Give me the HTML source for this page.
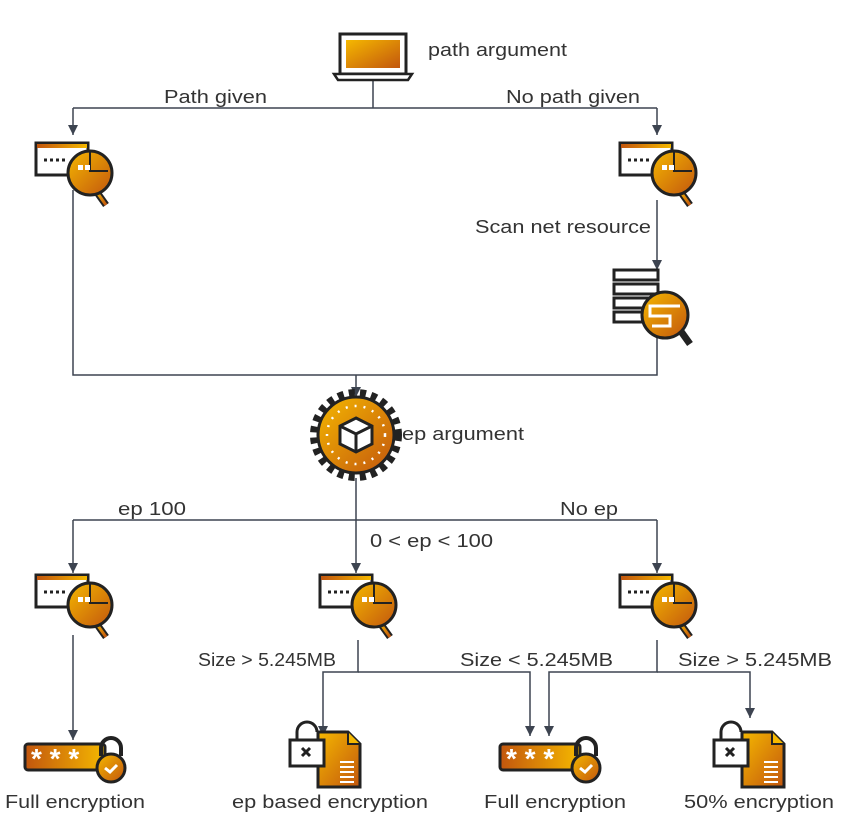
<!DOCTYPE html>
<html><head><meta charset="utf-8"><style>
body{margin:0;background:#fff;}
svg{display:block;font-family:"Liberation Sans",sans-serif;font-size:18px;fill:#333;}
</style></head><body>
<svg width="851" height="828" viewBox="0 0 851 828" xmlns="http://www.w3.org/2000/svg">
<defs>
<linearGradient id="g" x1="0" y1="0" x2="1" y2="1"><stop offset="0" stop-color="#f5b800"/><stop offset="1" stop-color="#c2560e"/></linearGradient>
<linearGradient id="g2" x1="0" y1="0" x2="1" y2="0"><stop offset="0" stop-color="#c2560e"/><stop offset="1" stop-color="#f5b800"/></linearGradient>
<marker id="a" markerWidth="12" markerHeight="12" refX="10" refY="5" orient="auto" markerUnits="userSpaceOnUse"><path d="M0,0 L10,5 L0,10 z" fill="#3d4450"/></marker>
<g id="scan">
<rect x="0" y="0" width="52" height="32" fill="#fff" stroke="#222" stroke-width="3"/>
<rect x="1" y="1" width="50" height="4" fill="url(#g2)"/>
<path d="M8 17h22" stroke="#222" stroke-width="3" stroke-dasharray="3 3"/>
<line x1="60" y1="48" x2="70" y2="62" stroke="#222" stroke-width="7"/>
<line x1="60" y1="48" x2="70" y2="62" stroke="url(#g)" stroke-width="3"/>
<circle cx="54" cy="30" r="22" fill="url(#g)" stroke="#222" stroke-width="3"/>
<path d="M54 8v20l18 0" fill="none" stroke="#222" stroke-width="2"/>
<rect x="42" y="22" width="5" height="5" fill="#fff"/><rect x="49" y="22" width="5" height="5" fill="#fff"/>
</g>
<g id="pw">
<rect x="0" y="0" width="80" height="26" rx="3" fill="url(#g2)" stroke="#222" stroke-width="3"/>
<text x="6" y="24" style="font-size:28px;fill:#fff;font-weight:bold">* * *</text>
<path d="M76 12v-8a10 10 0 0 1 20 0v8" fill="none" stroke="#222" stroke-width="4"/>
<circle cx="86" cy="24" r="14" fill="url(#g)" stroke="#222" stroke-width="3"/>
<path d="M80 24l5 4l7 -7" fill="none" stroke="#fff" stroke-width="3"/>
</g>
<g id="doc">
<path d="M28 10h30l12 12v43h-42z" fill="url(#g)" stroke="#222" stroke-width="3"/>
<path d="M58 10v12h12" fill="#f5b800" stroke="#222" stroke-width="2"/>
<path d="M50 40h14M50 45h14M50 50h14M50 55h14M50 60h14" stroke="#fff" stroke-width="2"/>
<path d="M7 18v-8a10 10 0 0 1 20 0" fill="none" stroke="#222" stroke-width="3"/>
<rect x="0" y="18" width="34" height="26" fill="#fff" stroke="#222" stroke-width="3"/>
<path d="M12 26l8 8M20 26l-8 8" stroke="#222" stroke-width="3"/>
</g>
</defs>
<g stroke="#3d4450" stroke-width="1.5" fill="none">
<path d="M373 80V108M73 108H657"/>
<path d="M73 108V135" marker-end="url(#a)"/>
<path d="M657 108V135" marker-end="url(#a)"/>
<path d="M73 190V375H657V338"/>
<path d="M657 200V270" marker-end="url(#a)"/>
<path d="M356 375V397" marker-end="url(#a)"/>
<path d="M356 478V520M73 520H657"/>
<path d="M73 520V573" marker-end="url(#a)"/>
<path d="M356 520V573" marker-end="url(#a)"/>
<path d="M657 520V573" marker-end="url(#a)"/>
<path d="M73 635V740" marker-end="url(#a)"/>
<path d="M358 640V672H323V736" marker-end="url(#a)"/>
<path d="M358 672H530V736" marker-end="url(#a)"/>
<path d="M657 640V672H549V736" marker-end="url(#a)"/>
<path d="M657 672H750V718" marker-end="url(#a)"/>
</g>
<!-- laptop -->
<rect x="340" y="34" width="66" height="40" fill="#fff" stroke="#222" stroke-width="3"/>
<rect x="346" y="40" width="54" height="28" fill="url(#g)"/>
<path d="M334 74h78l-4 6h-70z" fill="#fff" stroke="#222" stroke-width="2.5"/>
<use href="#scan" x="36" y="143"/>
<use href="#scan" x="620" y="143"/>
<!-- server -->
<g stroke="#222" stroke-width="3" fill="#fff">
<rect x="614" y="270" width="44" height="10"/><rect x="614" y="284" width="44" height="10"/><rect x="614" y="298" width="44" height="10"/><rect x="614" y="312" width="44" height="10"/>
</g>
<line x1="680" y1="330" x2="690" y2="344" stroke="#222" stroke-width="7"/>
<circle cx="665" cy="315" r="23" fill="url(#g)" stroke="#222" stroke-width="3"/>
<path d="M680 306h-30v10h20v10h-18" fill="none" stroke="#fff" stroke-width="3"/>
<!-- gear -->
<circle cx="356" cy="435" r="42" fill="none" stroke="#222" stroke-width="8" stroke-dasharray="6 5.2"/>
<circle cx="356" cy="435" r="38" fill="url(#g)" stroke="#222" stroke-width="3"/>
<circle cx="356" cy="435" r="29" fill="none" stroke="#fff" stroke-width="2.5" stroke-dasharray="2 7"/>
<path d="M356 418l16 8v18l-16 8l-16-8v-18z" fill="#fff" stroke="#222" stroke-width="3"/>
<path d="M340 426l16 8l16-8M356 434v18" fill="none" stroke="#222" stroke-width="3"/>
<use href="#scan" x="36" y="575"/>
<use href="#scan" x="320" y="575"/>
<use href="#scan" x="620" y="575"/>
<use href="#pw" x="25" y="744"/>
<use href="#pw" x="500" y="744"/>
<use href="#doc" x="290" y="722"/>
<use href="#doc" x="714" y="722"/>
<g lengthAdjust="spacingAndGlyphs">
<text x="428" y="56" textLength="139" lengthAdjust="spacingAndGlyphs">path argument</text>
<text x="164" y="103" textLength="103" lengthAdjust="spacingAndGlyphs">Path given</text>
<text x="506" y="103" textLength="134" lengthAdjust="spacingAndGlyphs">No path given</text>
<text x="475" y="233" textLength="176" lengthAdjust="spacingAndGlyphs">Scan net resource</text>
<text x="402" y="440" textLength="122" lengthAdjust="spacingAndGlyphs">ep argument</text>
<text x="118" y="515" textLength="68" lengthAdjust="spacingAndGlyphs">ep 100</text>
<text x="560" y="515" textLength="58" lengthAdjust="spacingAndGlyphs">No ep</text>
<text x="370" y="547" textLength="123" lengthAdjust="spacingAndGlyphs">0 &lt; ep &lt; 100</text>
<text x="198" y="666" textLength="138" lengthAdjust="spacingAndGlyphs">Size &gt; 5.245MB</text>
<text x="460" y="666" textLength="153" lengthAdjust="spacingAndGlyphs">Size &lt; 5.245MB</text>
<text x="678" y="666" textLength="154" lengthAdjust="spacingAndGlyphs">Size &gt; 5.245MB</text>
<text x="5" y="808" textLength="140" lengthAdjust="spacingAndGlyphs">Full encryption</text>
<text x="232" y="808" textLength="196" lengthAdjust="spacingAndGlyphs">ep based encryption</text>
<text x="484" y="808" textLength="142" lengthAdjust="spacingAndGlyphs">Full encryption</text>
<text x="684" y="808" textLength="150" lengthAdjust="spacingAndGlyphs">50% encryption</text>
</g>
</svg>
</body></html>
